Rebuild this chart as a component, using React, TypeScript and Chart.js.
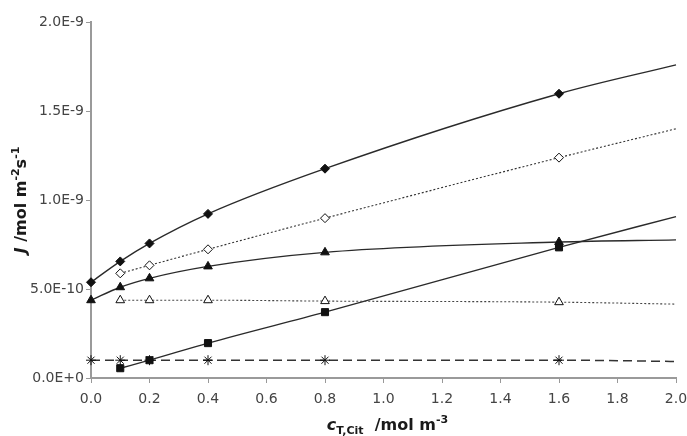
import React, { useEffect, useRef } from "react";
import { Chart, registerables } from "chart.js";

Chart.register(...registerables);

// ---- data ----
const xValues = [0, 0.1, 0.2, 0.4, 0.8, 1.6, 2.0];
const filledDiamond = [0.538e-9, 0.655e-9, 0.756e-9, 0.922e-9, 1.176e-9, 1.597e-9, 1.759e-9];
const openDiamond = [null, 0.588e-9, 0.633e-9, 0.723e-9, 0.898e-9, 1.238e-9, 1.4e-9];
const filledTriangle = [0.437e-9, 0.51e-9, 0.56e-9, 0.627e-9, 0.706e-9, 0.764e-9, 0.776e-9];
const openTriangle = [null, 0.437e-9, 0.437e-9, 0.437e-9, 0.432e-9, 0.426e-9, 0.415e-9];
const filledSquare = [null, 0.055e-9, 0.1e-9, 0.196e-9, 0.37e-9, 0.734e-9, 0.907e-9];
const asterisk = [0.1e-9, 0.1e-9, 0.1e-9, 0.1e-9, 0.1e-9, 0.1e-9, 0.093e-9];

const xTickValues = [0, 0.2, 0.4, 0.6, 0.8, 1.0, 1.2, 1.4, 1.6, 1.8, 2.0];
const xTickLabels = ["0.0", "0.2", "0.4", "0.6", "0.8", "1.0", "1.2", "1.4", "1.6", "1.8", "2.0"];
const yTickValues = [0, 5e-10, 1e-9, 1.5e-9, 2e-9];
const yTickLabels = ["0.0E+0", "5.0E-10", "1.0E-9", "1.5E-9", "2.0E-9"];

const FONT = "DejaVu Sans";

type Seg = { text: string; font: string; dy: number };

const xTitleSegs: Seg[] = [
  { text: "c", font: `italic bold 16px "${FONT}"`, dy: 0 },
  { text: "T,Cit", font: `bold 11px "${FONT}"`, dy: 4 },
  { text: "  /mol m", font: `bold 16px "${FONT}"`, dy: 0 },
  { text: "-3", font: `bold 11px "${FONT}"`, dy: -7 },
];
const yTitleSegs: Seg[] = [
  { text: "J", font: `italic bold 16px "${FONT}"`, dy: 0 },
  { text: " /mol m", font: `bold 16px "${FONT}"`, dy: 0 },
  { text: "-2", font: `bold 11px "${FONT}"`, dy: -7 },
  { text: "s", font: `bold 16px "${FONT}"`, dy: 0 },
  { text: "-1", font: `bold 11px "${FONT}"`, dy: -7 },
];

function segsWidth(ctx: CanvasRenderingContext2D, segs: Seg[]) {
  let w = 0;
  for (const s of segs) {
    ctx.font = s.font;
    w += ctx.measureText(s.text).width;
  }
  return w;
}
function drawSegs(ctx: CanvasRenderingContext2D, segs: Seg[], x: number, y: number) {
  let cx = x;
  for (const s of segs) {
    ctx.font = s.font;
    ctx.fillText(s.text, cx, y + s.dy);
    cx += ctx.measureText(s.text).width;
  }
}

const titlePlugin = {
  id: "richTitles",
  afterDraw(chart: any) {
    const ctx: CanvasRenderingContext2D = chart.ctx;
    const a = chart.chartArea;
    ctx.save();
    ctx.fillStyle = "#1a1a1a";
    ctx.textBaseline = "alphabetic";
    ctx.textAlign = "left";
    // x title
    const wx = segsWidth(ctx, xTitleSegs);
    const cxm = (a.left + a.right) / 2 + 4;
    drawSegs(ctx, xTitleSegs, cxm - wx / 2, 430);
    // y title
    const wy = segsWidth(ctx, yTitleSegs);
    const cym = (a.top + a.bottom) / 2;
    ctx.translate(26, cym);
    ctx.rotate(-Math.PI / 2);
    drawSegs(ctx, yTitleSegs, -wy / 2, 0);
    ctx.restore();
  },
};

function series(
  values: (number | null)[],
  pointStyle: string,
  filled: boolean,
  dash: number[],
  radius: number,
  lineWidth: number,
  color: string
) {
  const data = xValues
    .map((x, i) => (values[i] == null ? null : { x, y: values[i] as number }))
    .filter((d) => d !== null);
  const lastX = xValues[xValues.length - 1];
  return {
    data,
    borderColor: color,
    borderWidth: lineWidth,
    borderDash: dash,
    backgroundColor: filled ? "#111" : "#fff",
    pointStyle,
    pointRadius: (c: any) => (c.raw && c.raw.x === lastX ? 0 : radius),
    pointBorderColor: "#111",
    pointBorderWidth: 1,
    pointBackgroundColor: filled ? "#111" : "#fff",
    cubicInterpolationMode: "monotone",
    fill: false,
    clip: false,
  };
}

export default function App() {
  const ref = useRef<HTMLCanvasElement | null>(null);
  useEffect(() => {
    document.body.style.margin = "0";
    const canvas = ref.current!;
    const tickFont = { family: FONT, size: 14 };
    const chart = new Chart(canvas, {
      type: "line",
      data: {
        datasets: [
          series(filledDiamond, "rectRot", true, [], 4.5, 1.4, "#2a2a2a"),
          series(openDiamond, "rectRot", false, [2, 2], 4.5, 1.1, "#333"),
          series(filledTriangle, "triangle", true, [], 5, 1.4, "#2a2a2a"),
          series(openTriangle, "triangle", false, [2, 2], 5, 1.1, "#444"),
          series(filledSquare, "rect", true, [], 5, 1.4, "#2a2a2a"),
          series(asterisk, "star", false, [9, 5], 5, 1.5, "#333"),
        ] as any,
      },
      options: {
        responsive: false,
        animation: false,
        devicePixelRatio: 1,
        layout: { padding: { top: 22, right: 11, left: 0, bottom: 0 } },
        plugins: { legend: { display: false }, tooltip: { enabled: false } },
        scales: {
          x: {
            type: "linear",
            min: 0,
            max: 2,
            afterBuildTicks: (s: any) => {
              s.ticks = xTickValues.map((v) => ({ value: v }));
            },
            afterFit: (s: any) => {
              s.height = 58;
              s.paddingLeft = 0;
              s.paddingRight = 0;
            },
            ticks: {
              callback: (_v: any, i: number) => xTickLabels[i],
              font: tickFont,
              color: "#444",
              padding: 8,
              maxRotation: 0,
              autoSkip: false,
            },
            grid: { display: true, drawOnChartArea: false, drawTicks: true, tickLength: 5, color: "#999", lineWidth: 1 },
            border: { display: true, color: "#9a9a9a", width: 2 },
          },
          y: {
            type: "linear",
            min: 0,
            max: 2e-9,
            afterBuildTicks: (s: any) => {
              s.ticks = yTickValues.map((v) => ({ value: v }));
            },
            afterFit: (s: any) => {
              s.width = 91;
              s.paddingTop = 0;
              s.paddingBottom = 0;
            },
            ticks: {
              callback: (_v: any, i: number) => yTickLabels[i],
              font: tickFont,
              color: "#444",
              padding: 2,
              autoSkip: false,
            },
            grid: { display: true, drawOnChartArea: false, drawTicks: true, tickLength: 5, color: "#999", lineWidth: 1 },
            border: { display: true, color: "#9a9a9a", width: 2 },
          },
        },
      },
      plugins: [titlePlugin],
    } as any);
    return () => chart.destroy();
  }, []);
  return (
    <div style={{ width: 687, height: 436 }}>
      <canvas ref={ref} width={687} height={436} />
    </div>
  );
}
